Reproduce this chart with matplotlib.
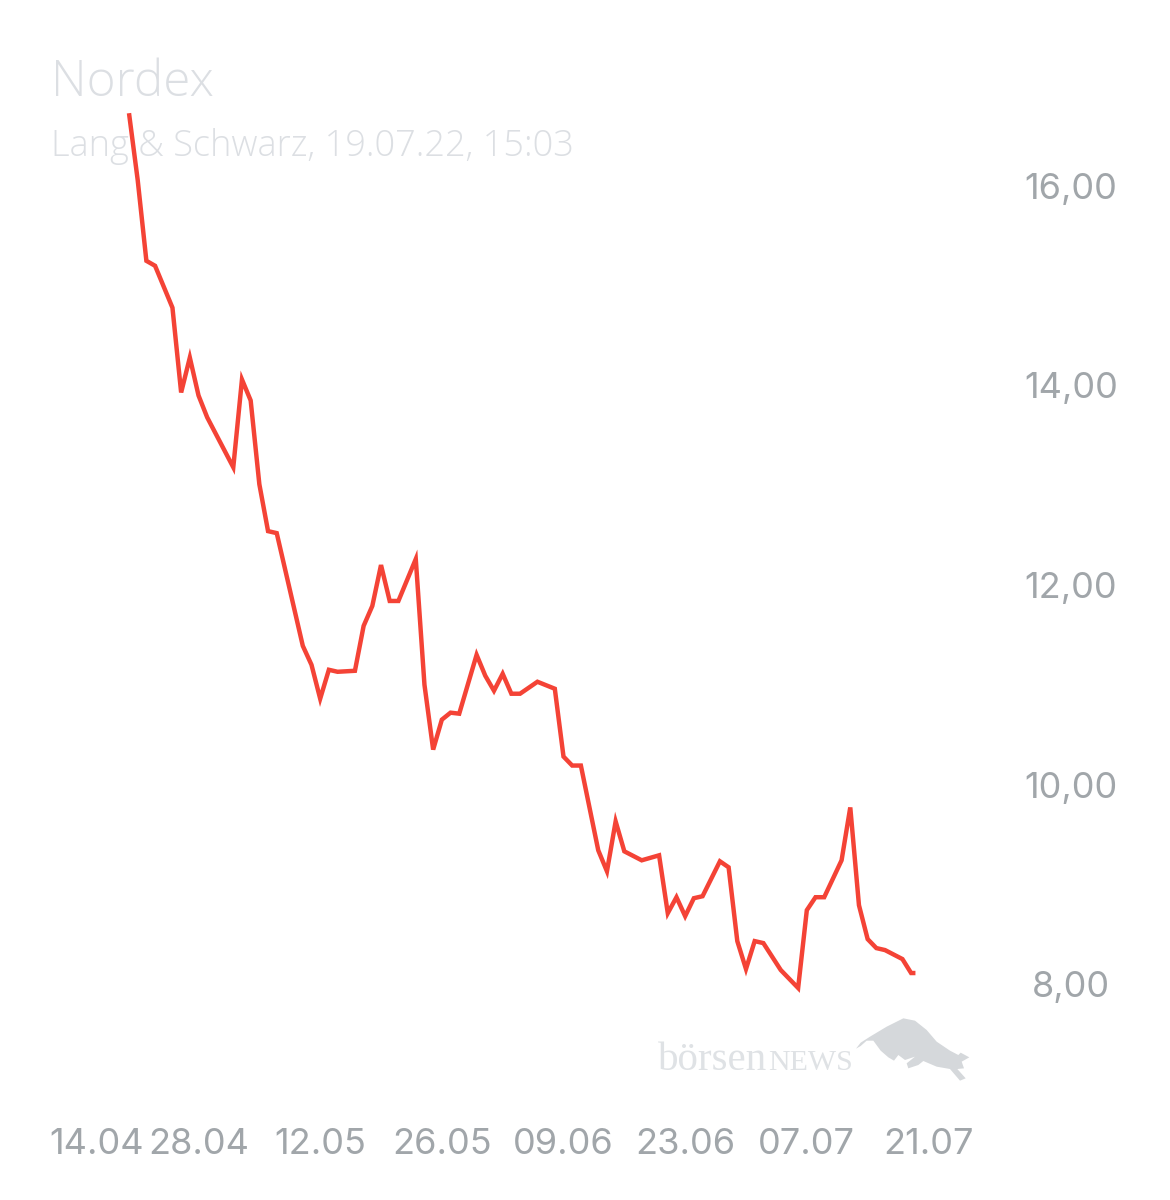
import numpy as np
import pandas as pd
import matplotlib
matplotlib.use("Agg")
import matplotlib.pyplot as plt
import matplotlib.dates as mdates
from matplotlib.patches import Polygon
from matplotlib.transforms import ScaledTranslation

start_date = "2022-04-20"
day_offsets = [0,1,2,3,5,6,7,8,9,12,13,14,15,16,17,20,21,22,23,24,26,27,28,29,30,31,33,34,35,36,37,38,
               40,41,42,43,44,45,47,49,50,51,52,54,55,56,57,59,61,62,63,64,65,66,68,69,70,71,72,73,
               75,77,78,79,80,82,83,84,85,86,87,89,90,90.5]
prices = [16.73,16.06,15.25,15.20,14.78,13.93,14.28,13.90,13.68,13.18,14.06,13.85,13.01,12.54,12.52,
          11.39,11.20,10.86,11.15,11.13,11.14,11.59,11.79,12.20,11.84,11.84,12.26,11.00,10.35,10.65,
          10.72,10.71,11.30,11.09,10.94,11.11,10.91,10.91,11.03,10.96,10.28,10.19,10.19,9.34,9.13,
          9.63,9.33,9.24,9.29,8.71,8.87,8.68,8.86,8.88,9.23,9.17,8.43,8.15,8.43,8.41,8.14,7.96,8.74,
          8.87,8.87,9.24,9.77,8.79,8.45,8.36,8.34,8.25,8.11,8.11]
x_ticks = ["2022-04-14","2022-04-28","2022-05-12","2022-05-26","2022-06-09","2022-06-23","2022-07-07","2022-07-21"]
x_labels = ["14.04","28.04","12.05","26.05","09.06","23.06","07.07","21.07"]
y_ticks = [8, 10, 12, 14, 16]
y_labels = ["8,00", "10,00", "12,00", "14,00", "16,00"]
title = "Nordex"
subtitle = "Lang & Schwarz, 19.07.22, 15:03"

W, H = 1170, 1200
plt.rcParams["font.family"] = ["Inter", "DejaVu Sans"]
fig = plt.figure(figsize=(W/100, H/100), dpi=100, facecolor="white")

L, R, T, B = 50, 1000, 60, 1100
ax = fig.add_axes([L/W, 1-B/H, (R-L)/W, (B-T)/H])
ax.patch.set_alpha(0)
for s in ax.spines.values():
    s.set_visible(False)

dates = pd.Timestamp(start_date) + pd.to_timedelta(day_offsets, unit="D")
xnum = mdates.date2num(dates)
d0 = xnum[0]
ppd = 8.69
ppu = 99.75
ax.plot(xnum, prices, color="#f44336", lw=3.2, solid_joinstyle="miter", solid_capstyle="butt", zorder=3)

tick_col = "#a1a6aa"
ax.set_xticks(mdates.date2num(pd.to_datetime(x_ticks)))
ax.set_xticklabels(x_labels, fontsize=26, color=tick_col)
ax.yaxis.tick_right()
ax.set_yticks(y_ticks)
ax.set_yticklabels(y_labels, fontsize=26, color=tick_col, ha="center")
ax.tick_params(axis="x", length=0, pad=20)
ax.tick_params(axis="y", length=0, pad=51)
ax.set_xlim(d0 + (L-129)/ppd, d0 + (R-129)/ppd)
ax.set_ylim(8 + (984-B)/ppu, 8 + (984-T)/ppu)

first = ax.get_xticklabels()[0]
first.set_transform(first.get_transform() + ScaledTranslation(20/100, 0, fig.dpi_scale_trans))

title_col = "#dcdfe3"
t1 = fig.text(51/W, 1-96/H, title, fontsize=33, color=title_col, family="Open Sans", fontweight="light", ha="left", va="baseline")
t2 = fig.text(51/W, 1-156/H, subtitle, fontsize=24, color=title_col, family="Open Sans", fontweight="light", ha="left", va="baseline")

fig.canvas.draw()
rend = fig.canvas.get_renderer()
for t, target in ((t1, 163), (t2, 523)):
    t.set_fontsize(t.get_fontsize() * target / t.get_window_extent(rend).width)

logo_text = "#dfe2e5"
fig.text(658/W, 1-1070/H, "börsen", family="Liberation Serif", fontsize=29.5, color=logo_text, ha="left", va="baseline")
fig.text(768/W, 1-1070/H, "NEWS", family="Liberation Serif", fontsize=21.5, color=logo_text, ha="left", va="baseline")
bull = np.array([(648,146),(662,128),(690,110),(740,80),(790,55),(825,62),(860,90),(890,125),(930,152),(955,165),
                 (962,158),(988,172),(965,185),(972,205),(952,207),(977,235),(960,242),(930,207),(890,200),(850,183),
                 (835,195),(805,205),(800,190),(825,170),(795,180),(775,165),(762,182),(745,172),(722,152),(700,122),
                 (680,122),(662,138)], float)
px = 640 + bull[:,0]/3
py = 1000 + bull[:,1]/3
fig.add_artist(Polygon(np.c_[px/W, 1-py/H], closed=True, transform=fig.transFigure, fc="#d5d8db", ec="none"))

fig.savefig("out.png", dpi=100)
